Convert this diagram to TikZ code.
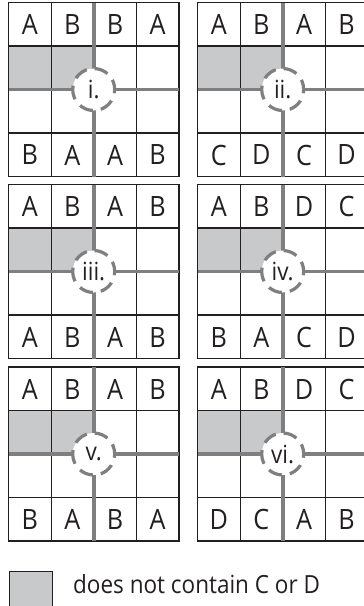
\documentclass[tikz,border=0pt]{standalone}
\usepackage{fontspec}
\setmainfont{Open Sans}[FakeStretch=0.9]
\definecolor{cellfill}{HTML}{C8C9CB}
\definecolor{thickgray}{HTML}{7F7F7F}
\definecolor{inkline}{HTML}{231F20}
\tikzset{
  thinline/.style={draw=inkline, line width=1.2pt},
  thickline/.style={draw=thickgray, line width=3.6pt},
  letter/.style={font=\fontsize{28}{28}\selectfont, text=inkline, inner sep=0pt},
  hub/.style={circle, fill=white, draw=thickgray, line width=3.2pt,
    dash pattern=on 14pt off 8pt, dash phase=4pt, minimum size=42pt, inner sep=0pt,
    font=\fontsize{25}{25}\selectfont, text=inkline},
  legendtext/.style={font=\fontsize{25}{25}\selectfont, text=inkline, inner sep=0pt, anchor=base west},
}
% #1 name, #2 x0, #3 y0, #4 label, #5 top letters, #6 bottom letters
\newcommand\cellgrid[6]{%
  \begin{scope}[shift={(#2,#3)}]
    \fill[cellfill] (0,43.5) rectangle (85.2,87);
    \foreach \k in {1,2,3} {
      \draw[thinline] (\k*42.6,0) -- (\k*42.6,174);
      \draw[thinline] (0,\k*43.5) -- (170.4,\k*43.5);
    }
    \draw[thinline] (0,0) rectangle (170.4,174);
    \coordinate (#1n) at (85.2,0);
    \coordinate (#1s) at (85.2,174);
    \coordinate (#1w) at (0,87);
    \coordinate (#1e) at (170.4,87);
    \draw[thickline] (#1n) -- (#1s);
    \draw[thickline] (#1w) -- (#1e);
    \node[hub] (#1c) at (85.2,87) {#4};
    \foreach \l [count=\i] in {#5}
      \node[letter] (#1t\i) at ({(\i-0.5)*42.6},22) {\l};
    \foreach \l [count=\i] in {#6}
      \node[letter] (#1b\i) at ({(\i-0.5)*42.6},152.5) {\l};
  \end{scope}}
\begin{document}
\begin{tikzpicture}[x=1pt,y=-1pt]
  \useasboundingbox (0,0) rectangle (364,606);
  \cellgrid{g1}{8.5}{2.5}{i.}{A,B,B,A}{B,A,A,B}
  \cellgrid{g2}{197.5}{2.5}{ii.}{A,B,A,B}{C,D,C,D}
  \cellgrid{g3}{8.5}{184.5}{iii.}{A,B,A,B}{A,B,A,B}
  \cellgrid{g4}{197.5}{184.5}{iv.}{A,B,D,C}{B,A,C,D}
  \cellgrid{g5}{8.5}{367}{v.}{A,B,A,B}{B,A,B,A}
  \cellgrid{g6}{197.5}{367}{vi.}{A,B,D,C}{D,C,A,B}
  \node[draw=inkline, line width=1.2pt, fill=cellfill, minimum width=43pt, minimum height=34.5pt,
        inner sep=0pt, anchor=north west] (key) at (9,571) {};
  \node[legendtext] (keytext) at (73,593) {does not contain C or D};
\end{tikzpicture}
\end{document}
